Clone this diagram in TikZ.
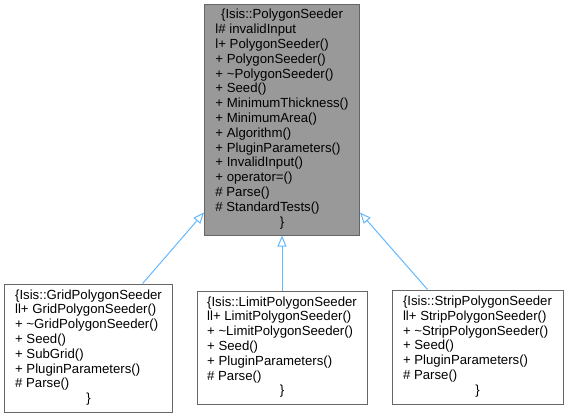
\documentclass[tikz,border=0pt]{standalone}
\usepackage{fontspec}
\setmainfont{Liberation Sans}
\usetikzlibrary{arrows.meta,positioning}
\definecolor{boxgray}{HTML}{999999}
\definecolor{edgegray}{HTML}{666666}
\definecolor{inherit}{HTML}{63B8FF}
\newcommand{\hd}[1]{\multicolumn{1}{@{}c@{}}{#1}}

\begin{document}
\begin{tikzpicture}[
  x=1bp,y=-1bp,
  cls/.style={draw=edgegray,line width=1bp,fill=white,inner sep=0pt,font=\fontsize{13.2bp}{14.8bp}\selectfont},
  base/.style={cls,fill=boxgray},
  arr/.style={{Triangle[open,length=11bp,width=9bp]}-,line width=1bp,draw=inherit}
]
  \useasboundingbox (0,0) rectangle (567,417);

  \node[base,minimum width=155bp,minimum height=231bp] (seeder) at (282,119.5) {%
    \begin{tabular}{@{}l@{}}
    \hd{\{Isis::PolygonSeeder}\\
    l\# invalidInput\\
    l+ PolygonSeeder()\\
    + PolygonSeeder()\\
    + \textasciitilde PolygonSeeder()\\
    + Seed()\\
    + MinimumThickness()\\
    + MinimumArea()\\
    + Algorithm()\\
    + PluginParameters()\\
    + InvalidInput()\\
    + operator=()\\
    \# Parse()\\
    \# StandardTests()\\
    \hd{\}}
    \end{tabular}};

  \node[cls,minimum width=167bp,minimum height=128bp] (grid) at (88.5,348) {%
    \begin{tabular}{@{}l@{}}
    \hd{\{Isis::GridPolygonSeeder}\\
    ll+ GridPolygonSeeder()\\
    + \textasciitilde GridPolygonSeeder()\\
    + Seed()\\
    + SubGrid()\\
    + PluginParameters()\\
    \# Parse()\\
    \hd{\}}
    \end{tabular}};

  \node[cls,minimum width=170bp,minimum height=113bp] (limit) at (282,347.5) {%
    \begin{tabular}{@{}l@{}}
    \hd{\{Isis::LimitPolygonSeeder}\\
    ll+ LimitPolygonSeeder()\\
    + \textasciitilde LimitPolygonSeeder()\\
    + Seed()\\
    + PluginParameters()\\
    \# Parse()\\
    \hd{\}}
    \end{tabular}};

  \node[cls,minimum width=171bp,minimum height=114bp] (strip) at (477.5,347) {%
    \begin{tabular}{@{}l@{}}
    \hd{\{Isis::StripPolygonSeeder}\\
    ll+ StripPolygonSeeder()\\
    + \textasciitilde StripPolygonSeeder()\\
    + Seed()\\
    + PluginParameters()\\
    \# Parse()\\
    \hd{\}}
    \end{tabular}};

  \draw[arr] (seeder.230) -- (grid.50);
  \draw[arr] (seeder.south) -- (limit.north);
  \draw[arr] (seeder.310) -- (strip.131);
\end{tikzpicture}
\end{document}
